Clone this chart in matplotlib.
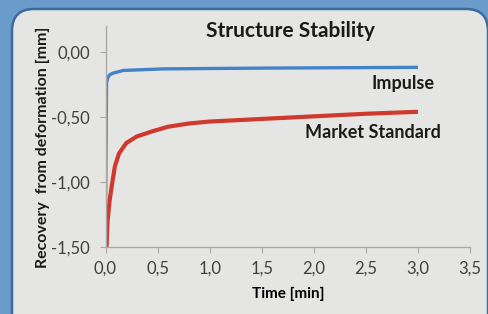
import matplotlib
matplotlib.use("Agg")
import matplotlib.pyplot as plt
from matplotlib.patches import FancyBboxPatch
from matplotlib.ticker import FuncFormatter

plt.rcParams['font.family'] = ['Lato', 'DejaVu Sans']

# data
impulse_t = [0.0, 0.01, 0.02, 0.04, 0.075, 0.17, 0.55, 1.0, 1.5, 2.0, 2.5, 3.0]
impulse_y = [-1.28, -0.24, -0.2, -0.175, -0.162, -0.142, -0.13, -0.127, -0.124, -0.122, -0.12, -0.118]

market_t = [0.01, 0.02, 0.04, 0.06, 0.09, 0.13, 0.2, 0.3, 0.45, 0.6, 0.8, 1.0, 1.5, 2.0, 2.5, 3.0]
market_y = [-1.5, -1.3, -1.14, -1.03, -0.88, -0.78, -0.70, -0.65, -0.61, -0.575, -0.55, -0.535, -0.515, -0.495, -0.475, -0.46]

xticks = [0.0, 0.5, 1.0, 1.5, 2.0, 2.5, 3.0, 3.5]
yticks = [-1.5, -1.0, -0.5, 0.0]

W, H = 489, 314
fig = plt.figure(figsize=(W / 100, H / 100), dpi=100)
fig.patch.set_facecolor('#6b9bca')

# background axes in pixel units, for the rounded light panel
bg = fig.add_axes([0, 0, 1, 1], zorder=-1)
bg.set_xlim(0, W)
bg.set_ylim(0, H)
bg.axis('off')
bg.add_patch(FancyBboxPatch((12, -30), 476, 335, boxstyle="round,pad=0,rounding_size=22",
                            facecolor='#e5e5e3', edgecolor='#3d6b9c', linewidth=1.8))

ax = fig.add_axes([105.5 / W, 67 / H, (470 - 105.5) / W, (288 - 67) / H])
ax.set_facecolor('none')

ax.plot(impulse_t, impulse_y, color='#4382c6', lw=2.4, solid_capstyle='butt')
ax.plot(market_t, market_y, color='#d0392d', lw=3.0, solid_capstyle='butt')

ax.set_xlim(0, 3.5)
ax.set_ylim(-1.5, 0.2)
ax.set_xticks(xticks)
ax.set_yticks(yticks)
ax.xaxis.set_major_formatter(FuncFormatter(lambda v, p: f"{v:.1f}".replace('.', ',')))
ax.yaxis.set_major_formatter(FuncFormatter(lambda v, p: f"{v:.2f}".replace('.', ',')))

for s in ['top', 'right']:
    ax.spines[s].set_visible(False)
for s in ['left', 'bottom']:
    ax.spines[s].set_color('#a8a8a8')
    ax.spines[s].set_linewidth(1.0)
ax.tick_params(axis='y', direction='out', length=4, color='#a8a8a8', labelsize=12, labelcolor='#404040', pad=7)
ax.tick_params(axis='x', direction='out', length=4, color='#a8a8a8', labelsize=12, labelcolor='#404040', pad=6)

ax.set_xlabel('Time [min]', fontsize=11, fontweight='bold', labelpad=7)
fig.text(43 / W, 1 - 147 / H, 'Recovery  from deformation [mm]', rotation=90,
         ha='center', va='center', fontsize=11.5, fontweight='bold', color='#1a1a1a')

fig.text(290 / W, 1 - 31 / H, 'Structure Stability', ha='center', va='center',
         fontsize=15, fontweight='bold', color='#1a1a1a')
ax.text(2.86, -0.24, 'Impulse', ha='center', va='center', fontsize=13, fontweight='bold', color='#1a1a1a')
ax.text(2.565, -0.62, 'Market Standard', ha='center', va='center', fontsize=13, fontweight='bold', color='#1a1a1a')

fig.savefig('out.png', dpi=100, facecolor=fig.get_facecolor())
